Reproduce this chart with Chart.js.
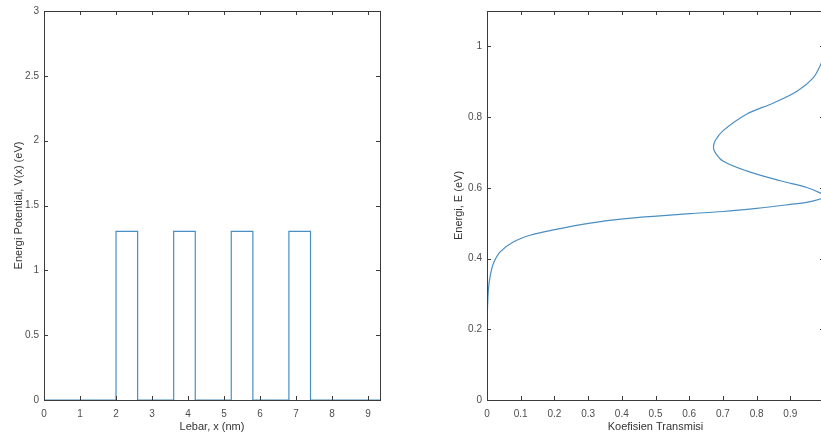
<!DOCTYPE html>
<html>
<head>
<meta charset="utf-8">
<script src="https://cdn.jsdelivr.net/npm/chart.js@4/dist/chart.umd.min.js"></script>
<style>
  html, body { margin: 0; padding: 0; background: #fff; overflow: hidden; }
  body { width: 821px; height: 439px; position: relative; }
  .panel { position: absolute; top: 0; height: 439px; }
  #potPanel { left: 0; width: 410px; }
  #transPanel { left: 420px; width: 420px; }
</style>
</head>
<body>
<div class="panel" id="potPanel"><canvas id="potentialChart"></canvas></div>
<div class="panel" id="transPanel"><canvas id="transmissionChart"></canvas></div>

<script>
// Potential profile: four barriers, 1.3 eV high, 0.6 nm wide
const potX = [0, 2, 2, 2.6, 2.6, 3.6, 3.6, 4.2, 4.2, 5.2, 5.2, 5.8, 5.8, 6.8, 6.8, 7.4, 7.4, 9.33];
const potV = [0, 0, 1.3, 1.3, 0, 0, 1.3, 1.3, 0, 0, 1.3, 1.3, 0, 0, 1.3, 1.3, 0, 0];
const potXTicks = [0, 1, 2, 3, 4, 5, 6, 7, 8, 9];
const potYTicks = [0, 0.5, 1, 1.5, 2, 2.5, 3];

// Transmission coefficient against energy
const energy = [0, 0.1, 0.2, 0.246, 0.31, 0.348, 0.386, 0.419, 0.447, 0.466, 0.481, 0.5, 0.512, 0.52, 0.527,
  0.533, 0.542, 0.553, 0.559, 0.569, 0.576, 0.585, 0.601, 0.62, 0.648, 0.676, 0.70, 0.714, 0.733, 0.761,
  0.808, 0.84, 0.873, 0.911, 0.948, 0.968, 1.0];
const trans = [0, 0, 0.0005, 0.001, 0.004, 0.009, 0.019, 0.039, 0.078, 0.128, 0.197, 0.306, 0.405, 0.503, 0.602,
  0.70, 0.80, 0.90, 0.949, 0.991, 1.0, 0.99, 0.949, 0.87, 0.77, 0.70, 0.677, 0.672, 0.677, 0.70,
  0.77, 0.85, 0.92, 0.968, 0.99, 0.998, 0.999];
const transXTicks = [0, 0.1, 0.2, 0.3, 0.4, 0.5, 0.6, 0.7, 0.8, 0.9, 1];
const transYTicks = [0, 0.2, 0.4, 0.6, 0.8, 1];

const axisColor = "#3a3a3a";
const labelColor = "#4d4d4d";
const lineColor = "#4a8fc2";
const tickFont = { family: "'Liberation Sans', Arial, sans-serif", size: 10 };
const titleFont = { family: "'Liberation Sans', Arial, sans-serif", size: 11 };

// box around the plot area with short inward ticks on all four sides
const boxPlugin = {
  id: "boxTicks",
  afterDraw(chart) {
    const { ctx, chartArea: a, scales } = chart;
    const len = 4;
    ctx.save();
    ctx.strokeStyle = axisColor;
    ctx.lineWidth = 1;
    ctx.beginPath();
    scales.x.ticks.forEach(t => {
      const px = Math.round(scales.x.getPixelForValue(t.value)) + 0.5;
      ctx.moveTo(px, a.bottom); ctx.lineTo(px, a.bottom - len);
      ctx.moveTo(px, a.top); ctx.lineTo(px, a.top + len);
    });
    scales.y.ticks.forEach(t => {
      const py = Math.round(scales.y.getPixelForValue(t.value)) + 0.5;
      ctx.moveTo(a.left, py); ctx.lineTo(a.left + len, py);
      ctx.moveTo(a.right, py); ctx.lineTo(a.right - len, py);
    });
    ctx.stroke();
    ctx.strokeRect(Math.round(a.left) + 0.5, Math.round(a.top) + 0.5,
      Math.round(a.right - a.left), Math.round(a.bottom - a.top));
    ctx.restore();
  }
};

function makeChart(id, points, opts) {
  return new Chart(document.getElementById(id), {
    type: "scatter",
    data: {
      datasets: [{
        data: points,
        showLine: true,
        borderColor: lineColor,
        borderWidth: 1.2,
        pointRadius: 0,
        tension: opts.tension,
        fill: false
      }]
    },
    options: {
      responsive: false,
      animation: false,
      events: [],
      layout: { padding: opts.padding },
      plugins: { legend: { display: false }, tooltip: { enabled: false } },
      scales: {
        x: {
          type: "linear",
          min: opts.xMin, max: opts.xMax,
          afterBuildTicks: s => { s.ticks = opts.xTicks.map(v => ({ value: v })); },
          afterFit: s => { s.height = 39; },
          grid: { display: false, drawTicks: false },
          border: { display: false },
          ticks: { color: labelColor, font: tickFont, padding: 8, maxRotation: 0, autoSkip: false,
            callback: v => String(v) },
          title: { display: true, text: opts.xTitle, color: "#333", font: titleFont,
            padding: { top: 0, bottom: 5 } }
        },
        y: {
          type: "linear",
          min: opts.yMin, max: opts.yMax,
          afterBuildTicks: s => { s.ticks = opts.yTicks.map(v => ({ value: v })); },
          afterFit: s => { s.width = opts.yWidth; },
          grid: { display: false, drawTicks: false },
          border: { display: false },
          ticks: { color: labelColor, font: tickFont, padding: 5, autoSkip: false,
            callback: v => String(v) },
          title: { display: true, text: opts.yTitle, color: "#333", font: titleFont,
            padding: { top: opts.yTitlePad, bottom: 0 } }
        }
      }
    },
    plugins: [boxPlugin]
  });
}

function sizeCanvas(id, w, h) {
  const c = document.getElementById(id);
  c.width = w; c.height = h;
  c.style.width = w + "px"; c.style.height = h + "px";
}

sizeCanvas("potentialChart", 410, 439);
sizeCanvas("transmissionChart", 420, 439);

makeChart("potentialChart", potX.map((x, i) => ({ x, y: potV[i] })), {
  xMin: 0, xMax: 9.33, yMin: 0, yMax: 3,
  xTicks: potXTicks, yTicks: potYTicks,
  xTitle: "Lebar, x (nm)", yTitle: "Energi Potential, V(x) (eV)",
  yWidth: 44, yTitlePad: 12, tension: 0,
  padding: { top: 10, right: 30, bottom: 0, left: 0 }
});

makeChart("transmissionChart", trans.map((t, i) => ({ x: t, y: energy[i] })), {
  xMin: 0, xMax: 1, yMin: 0, yMax: 1.1,
  xTicks: transXTicks, yTicks: transYTicks,
  xTitle: "Koefisien Transmisi", yTitle: "Energi, E (eV)",
  yWidth: 67, yTitlePad: 32, tension: 0.35,
  padding: { top: 9, right: 16, bottom: 0, left: 0 }
});
</script>
</body>
</html>
